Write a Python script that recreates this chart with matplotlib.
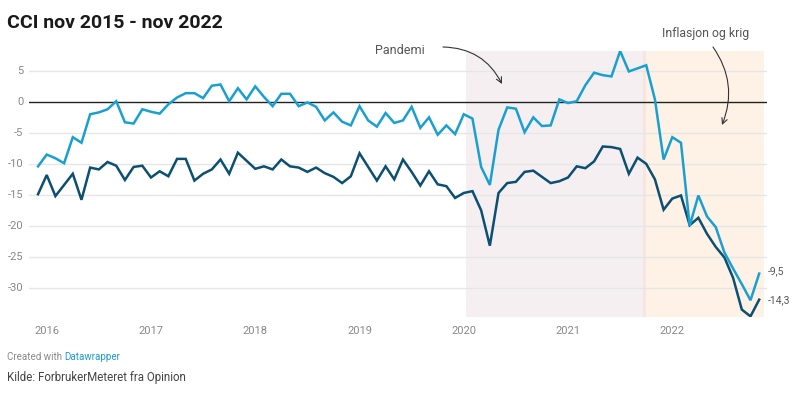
import matplotlib
matplotlib.use("Agg")
import matplotlib.pyplot as plt

plt.rcParams['font.family'] = ['Roboto', 'DejaVu Sans']

# Monthly values, Dec 2015 .. Nov 2022 (index 0 = Dec 2015)
light_series = [
    -10.3, -8.4, -9.0, -9.8, -5.6, -6.5, -1.9, -1.6, -1.1, 0.2, -3.2, -3.4,
    -1.1, -1.5, -1.8, -0.3, 0.8, 1.5, 1.5, 0.7, 2.7, 2.9, 0.2, 2.3,
    0.5, 2.6, 0.9, -0.6, 1.4, 1.4, -0.6, 0.0, -0.7, -2.9, -1.6, -3.1,
    -3.7, -0.6, -2.9, -3.9, -1.7, -3.3, -2.9, -0.7, -4.1, -2.4, -5.2, -3.7,
    -5.1, -1.9, -2.6, -10.4, -13.3, -4.4, -0.8, -1.0, -4.8, -2.4, -3.8, -3.7,
    0.5, -0.1, 0.2, 2.8, 4.8, 4.4, 4.2, 8.3, 5.0, 5.5, 6.0, 0.5,
    -9.2, -5.6, -6.5, -19.9, -15.0, -18.4, -20.1, -24.2, -26.8, -29.3, -31.9, -27.6,
]
dark_series = [
    -14.8, -11.7, -15.1, -13.3, -11.5, -15.7, -10.5, -10.8, -9.6, -10.2, -12.5, -10.4,
    -10.2, -12.1, -11.1, -11.9, -9.1, -9.1, -12.6, -11.5, -10.8, -9.2, -11.5, -8.1,
    -9.4, -10.7, -10.3, -10.8, -9.2, -10.3, -10.5, -11.2, -10.5, -11.4, -12.0, -13.0,
    -11.9, -8.2, -10.4, -12.6, -10.3, -12.4, -9.2, -11.2, -13.4, -11.1, -13.2, -13.5,
    -15.4, -14.6, -14.3, -17.4, -23.1, -14.6, -13.0, -12.8, -11.2, -11.0, -12.0, -13.0,
    -12.7, -12.1, -10.3, -10.6, -9.5, -7.1, -7.2, -7.5, -11.5, -8.9, -9.9, -12.4,
    -17.3, -15.5, -15.0, -19.8, -18.6, -21.2, -23.3, -25.0, -28.3, -33.4, -34.5, -31.8,
]
year_labels = ["2016", "2017", "2018", "2019", "2020", "2021", "2022"]
year_tick_pos = [1, 13, 25, 37, 49, 61, 73]
y_ticks = [5, 0, -5, -10, -15, -20, -25, -30]
end_labels = ["-9,5", "-14,3"]
pandemic_span = (49.25, 69.6)
overlap_span = (69.6, 70.0)
inflation_span = (70.0, 83.5)

W, H = 800, 396
fig = plt.figure(figsize=(W / 100, H / 100), dpi=100)
fig.patch.set_facecolor("white")

ax_l, ax_r, ax_t, ax_b = 29, 767, 51, 317
ax = fig.add_axes([ax_l / W, 1 - ax_b / H, (ax_r - ax_l) / W, (ax_b - ax_t) / H])
x = list(range(len(light_series)))
ax.set_xlim(-1.04, 83.9)
ax.set_ylim(-34.6, 8.3)

ax.axvspan(*pandemic_span, color="#f5eff2", lw=0, zorder=0)
ax.axvspan(*overlap_span, color="#f6e6df", lw=0, zorder=0)
ax.axvspan(*inflation_span, color="#fdf2e5", lw=0, zorder=0)

for yt in y_ticks:
    if yt == 0:
        ax.axhline(0, color="#222222", lw=1.0, zorder=2)
    else:
        ax.axhline(yt, color="#e6e6e6", lw=1.0, zorder=1)

ax.plot(x, light_series, color="#1aa0d0", lw=1.8, zorder=4, solid_joinstyle="miter")
ax.plot(x, dark_series, color="#0b4f72", lw=1.8, zorder=3, solid_joinstyle="miter")

for s in ax.spines.values():
    s.set_visible(False)
ax.set_xticks([])
ax.set_yticks([])
ax.patch.set_alpha(0)

# y tick labels
for yt in y_ticks:
    ax.annotate(str(yt), xy=(0, yt), xycoords=("axes fraction", "data"),
                xytext=(-4, 0), textcoords="offset points",
                ha="right", va="center", fontsize=8, color="#888888")
# x tick labels
for lab, pos in zip(year_labels, year_tick_pos):
    ax.annotate(lab, xy=(pos, 0), xycoords=("data", "axes fraction"),
                xytext=(0, -10), textcoords="offset points",
                ha="center", va="center", fontsize=8, color="#888888")

# end labels
ax.annotate(end_labels[0], xy=(83, light_series[-1]), xytext=(6, 1.5),
            textcoords="offset points", ha="left", va="center",
            fontsize=7.5, color="#555555", annotation_clip=False)
ax.annotate(end_labels[1], xy=(83, dark_series[-1]), xytext=(6, -0.5),
            textcoords="offset points", ha="left", va="center",
            fontsize=7.5, color="#555555", annotation_clip=False)

# annotations
fig.text(375 / W, 1 - 50 / H, "Pandemi", fontsize=9, color="#555555",
         ha="left", va="center")
ax.annotate("", xy=(502 / W, 1 - 84 / H), xycoords="figure fraction",
            xytext=(443 / W, 1 - 47 / H), textcoords="figure fraction",
            arrowprops=dict(arrowstyle="->", color="#333333", lw=0.8,
                            connectionstyle="arc3,rad=-0.3",
                            shrinkA=0, shrinkB=0), annotation_clip=False)
fig.text(662 / W, 1 - 34 / H, "Inflasjon og krig", fontsize=8.8, color="#555555",
         ha="left", va="center")
ax.annotate("", xy=(722 / W, 1 - 125 / H), xycoords="figure fraction",
            xytext=(713 / W, 1 - 47 / H), textcoords="figure fraction",
            arrowprops=dict(arrowstyle="->", color="#333333", lw=0.8,
                            connectionstyle="arc3,rad=-0.27",
                            shrinkA=0, shrinkB=0), annotation_clip=False)

# title
fig.text(7 / W, 1 - 23 / H, "CCI nov 2015 - nov 2022", fontsize=14,
         fontweight="bold", color="#1a1a1a", ha="left", va="center")

# footer
t1 = fig.text(7 / W, 1 - 357 / H, "Created with ", fontsize=7, color="#888888",
              ha="left", va="center")
fig.canvas.draw()
bb = t1.get_window_extent()
fig.text(bb.x1 / W, 1 - 357 / H, "Datawrapper", fontsize=7, color="#1d9ad0",
         ha="left", va="center")
fig.text(7 / W, 1 - 377 / H, "Kilde: ForbrukerMeteret fra Opinion", fontsize=8.3,
         color="#444444", ha="left", va="center")

fig.savefig("out.png", dpi=100, facecolor="white")
